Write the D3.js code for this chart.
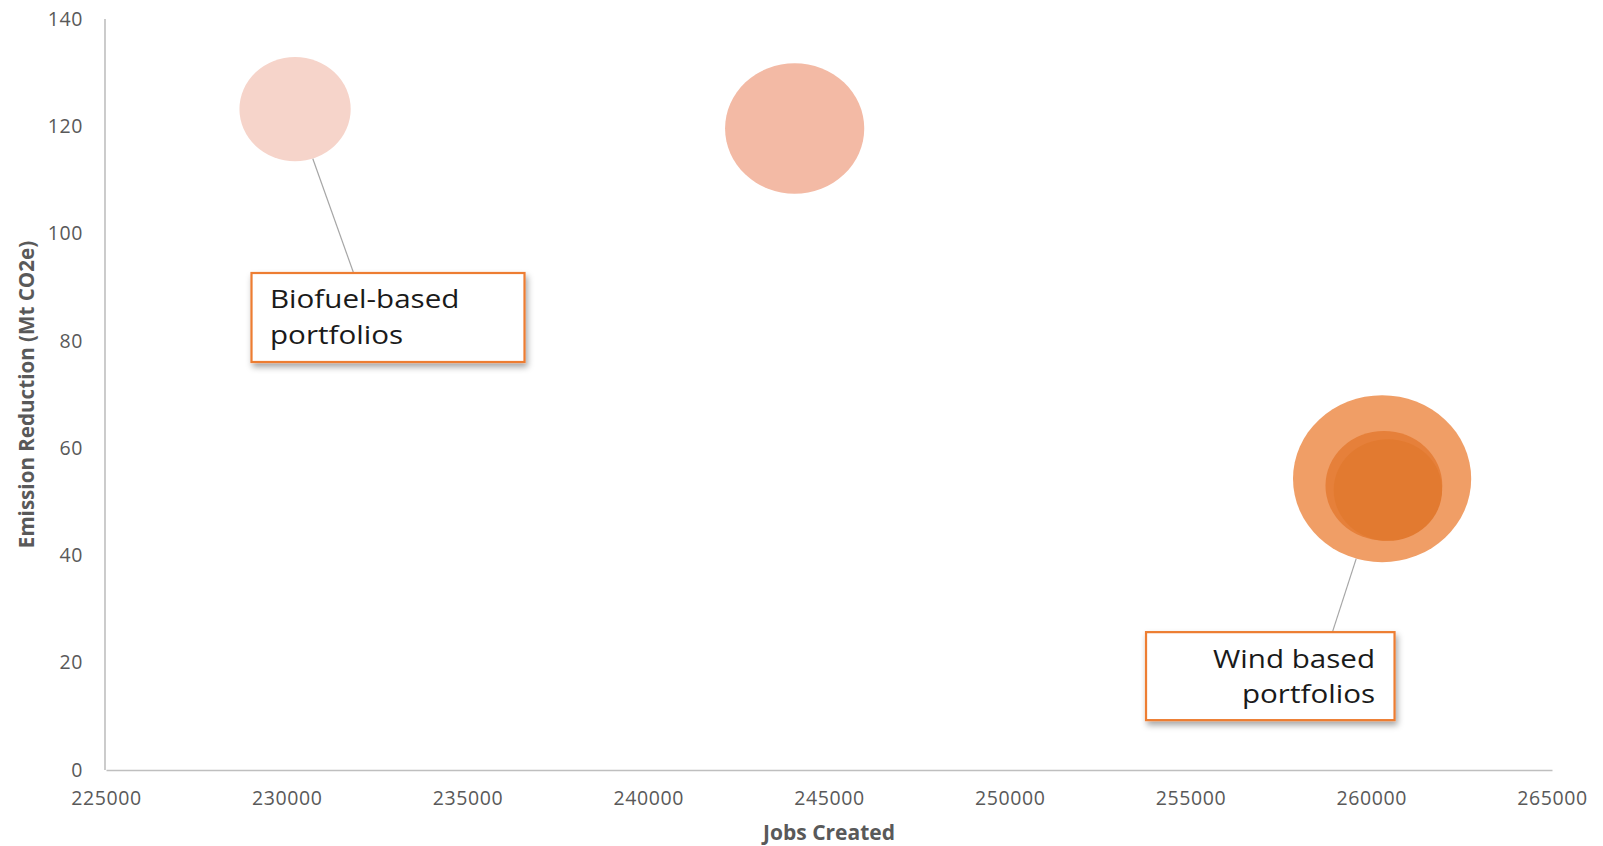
<!DOCTYPE html>
<html>
<head>
<meta charset="utf-8">
<script src="https://cdn.jsdelivr.net/npm/d3@7"></script>
<style>
  html, body { margin: 0; padding: 0; background: #fff; }
  svg { display: block; }
  text { font-family: "Open Sans", "Noto Sans", sans-serif; }
</style>
</head>
<body>
<svg id="chart" width="1603" height="846"></svg>
<script>
// Portfolio results: jobs created vs. emission reduction, bubble = portfolio size
const jobsCreated       = [230230, 244050, 260300, 260350, 260460];
const emissionReduction = [123.2, 119.6, 54.3, 53.0, 52.2];
const bubbleSize        = [3.9, 6.1, 10.0, 4.3, 3.7];

const xTicks = [225000, 230000, 235000, 240000, 245000, 250000, 255000, 260000, 265000];
const yTicks = [0, 20, 40, 60, 80, 100, 120, 140];

const xTitle = "Jobs Created";
const yTitle = "Emission Reduction (Mt CO2e)";

// Callouts: text lines, the bubble they point to, and the box's top-left in data units
const calloutLines  = [["Biofuel-based", "portfolios"], ["Wind based", "portfolios"]];
const calloutTarget = [0, 2];
const calloutJobs   = [229025, 253770];
const calloutEmis   = [92.65, 25.7];

const bubbleFill = ["#F6D4CA", "#F3BAA5", "#F09E66", "#E6803A", "#E27A30"];

const svg = d3.select("#chart");

const x = d3.scaleLinear().domain([225000, 265000]).range([106, 1552]);
const y = d3.scaleLinear().domain([0, 140]).range([770, 19]);
const r = d3.scaleSqrt().domain([0, 10]).range([0, 83.5]);
const aspect = 1.067; // bubbles render slightly wider than tall

const defs = svg.append("defs");
const shadow = defs.append("filter").attr("id", "boxShadow")
  .attr("x", "-20%").attr("y", "-20%").attr("width", "140%").attr("height", "150%");
shadow.append("feDropShadow")
  .attr("dx", 2).attr("dy", 4).attr("stdDeviation", 3)
  .attr("flood-color", "#000").attr("flood-opacity", 0.35);

// Axes
const xAxis = d3.axisBottom(x).tickValues(xTicks).tickSize(0).tickPadding(21)
  .tickFormat(d3.format("d"));
const yAxis = d3.axisLeft(y).tickValues(yTicks).tickSize(0).tickPadding(22)
  .tickFormat(d3.format("d"));

const gx = svg.append("g").attr("transform", `translate(0,${y(0)})`).call(xAxis);
const gy = svg.append("g").attr("transform", `translate(${x(225000) - 1},0)`).call(yAxis);

[gx, gy].forEach(g => {
  g.select(".domain").attr("stroke", "#BFBFBF").attr("stroke-width", 1.6);
  g.selectAll(".tick text")
    .attr("fill", "#595959")
    .style("font-size", "19.5px")
    .style("letter-spacing", "0.6px");
});
gy.select(".domain").attr("d", `M0,${y(0)}V${y(140)}`);

// Axis titles
svg.append("text")
  .attr("x", (x(225000) + x(265000)) / 2)
  .attr("y", 840)
  .attr("text-anchor", "middle")
  .attr("fill", "#595959")
  .style("font-size", "21px").style("font-weight", "bold")
  .text(xTitle);

svg.append("text")
  .attr("transform", `translate(34,${(y(0) + y(140)) / 2}) rotate(-90)`)
  .attr("text-anchor", "middle")
  .attr("fill", "#595959")
  .style("font-size", "20.6px").style("font-weight", "bold")
  .text(yTitle);

// Bubbles
const points = jobsCreated.map((j, i) => ({
  cx: x(j), cy: y(emissionReduction[i]),
  ry: r(bubbleSize[i]), rx: r(bubbleSize[i]) * aspect, fill: bubbleFill[i]
}));

// Callouts (leader lines sit beneath the bubbles' edge)
const boxW = [273, 248.5], boxH = [89, 88], attach = [0.374, 0.75];
const callouts = calloutLines.map((lines, i) => {
  const bx = x(calloutJobs[i]), by = y(calloutEmis[i]);
  const p = points[calloutTarget[i]];
  const ax = bx + boxW[i] * attach[i], ay = by;
  const dx = ax - p.cx, dy = ay - p.cy;
  const t = 1 / Math.sqrt((dx / p.rx) ** 2 + (dy / p.ry) ** 2);
  return { lines, bx, by, w: boxW[i], h: boxH[i], ax, ay,
           sx: p.cx + dx * t, sy: p.cy + dy * t, right: i === 1 };
});

svg.append("g").selectAll("line").data(callouts).join("line")
  .attr("x1", d => d.sx).attr("y1", d => d.sy)
  .attr("x2", d => d.ax).attr("y2", d => d.ay)
  .attr("stroke", "#A6A6A6").attr("stroke-width", 1.2);

svg.append("g").selectAll("ellipse").data(points).join("ellipse")
  .attr("cx", d => d.cx).attr("cy", d => d.cy)
  .attr("rx", d => d.rx).attr("ry", d => d.ry)
  .attr("fill", d => d.fill);

const cg = svg.append("g").selectAll("g").data(callouts).join("g");
cg.append("rect")
  .attr("x", d => d.bx).attr("y", d => d.by)
  .attr("width", d => d.w).attr("height", d => d.h)
  .attr("fill", "#fff").attr("stroke", "#ED7D31").attr("stroke-width", 2.2)
  .attr("filter", "url(#boxShadow)");

// Callout text: slightly wide lettering, one text per line
const labelStretch = 1.16, lineGap = 35.5;
cg.each(function (d) {
  const g = d3.select(this);
  const ax = d.right ? d.bx + d.w - 19.5 : d.bx + 18.5;
  d.lines.forEach((line, k) => {
    g.append("text")
      .attr("transform", `translate(${ax},${d.by + 35.5 + k * lineGap}) scale(${labelStretch},1)`)
      .attr("text-anchor", d.right ? "end" : "start")
      .attr("fill", "#1a1a1a")
      .style("font-size", "25.5px")
      .text(line);
  });
});
</script>
</body>
</html>
